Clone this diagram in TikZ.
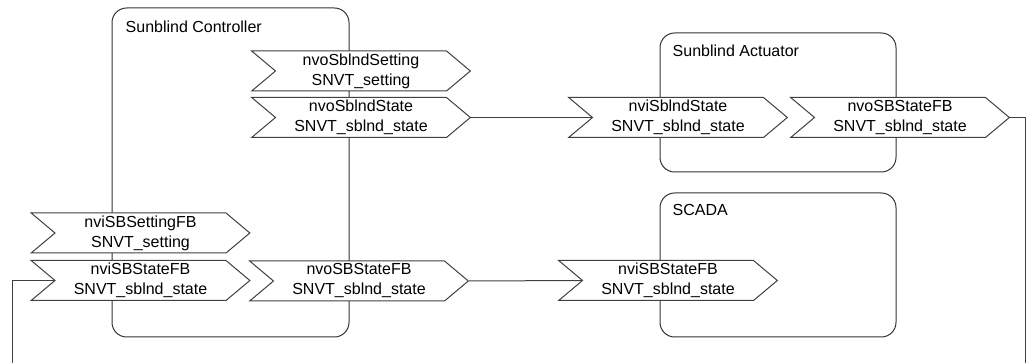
\documentclass[tikz,border=0pt]{standalone}
\usepackage{fontspec}
\setmainfont{Liberation Sans}
\usetikzlibrary{shapes.symbols}
\begin{document}
\begin{tikzpicture}[x=0.75pt, y=-0.75pt,
  every node/.style={font=\fontsize{12pt}{15pt}\selectfont},
  nv/.style={signal, signal from=west, signal to=east, signal pointer angle=80,
    draw=black!75, fill=white, line width=0.75pt, minimum width=164pt, minimum height=30pt,
    inner sep=0pt, align=center},
  unit/.style={draw=black!80, line width=0.75pt, rounded corners=11pt},
  link/.style={draw=black!75, line width=0.75pt}]
  \useasboundingbox (0,0) rectangle (1032,363);
  \clip (0,0) rectangle (1032,363);
  % devices
  \draw[unit] (112,8) rectangle (349,337);
  \node[anchor=base west] (ctrlname) at (121,33) {Sunblind Controller};
  \draw[unit] (660,33) rectangle (896,172);
  \node[anchor=base west] (actname) at (668,57) {Sunblind Actuator};
  \draw[unit] (660,193) rectangle (896,337);
  \node[anchor=base west] (scadaname) at (668,216) {SCADA};
  % network variables
  \node[nv] (setSbl) at (361,71) {nvoSblndSetting\\SNVT\_setting};
  \node[nv] (stSbl) at (361,117.5) {nvoSblndState\\SNVT\_sblnd\_state};
  \node[nv] (inSbl) at (678,117.5) {nviSblndState\\SNVT\_sblnd\_state};
  \node[nv] (outAct) at (900,117.5) {nvoSBStateFB\\SNVT\_sblnd\_state};
  \node[nv] (inSetFB) at (140.5,233) {nviSBSettingFB\\SNVT\_setting};
  \node[nv] (inStFB) at (140.5,280.5) {nviSBStateFB\\SNVT\_sblnd\_state};
  \node[nv] (outCtrl) at (359,281) {nvoSBStateFB\\SNVT\_sblnd\_state};
  \node[nv] (inScada) at (668,280.5) {nviSBStateFB\\SNVT\_sblnd\_state};
  % bindings
  \coordinate (loopR) at (1025,380);
  \coordinate (loopL) at (12,380);
  \draw[link] (stSbl.east) -- (inSbl.west);
  \draw[link] (outCtrl.east) -- (inScada.west);
  \draw[link] (outAct.east) -| (loopR) -- (loopL) |- (inStFB.west);
\end{tikzpicture}
\end{document}
